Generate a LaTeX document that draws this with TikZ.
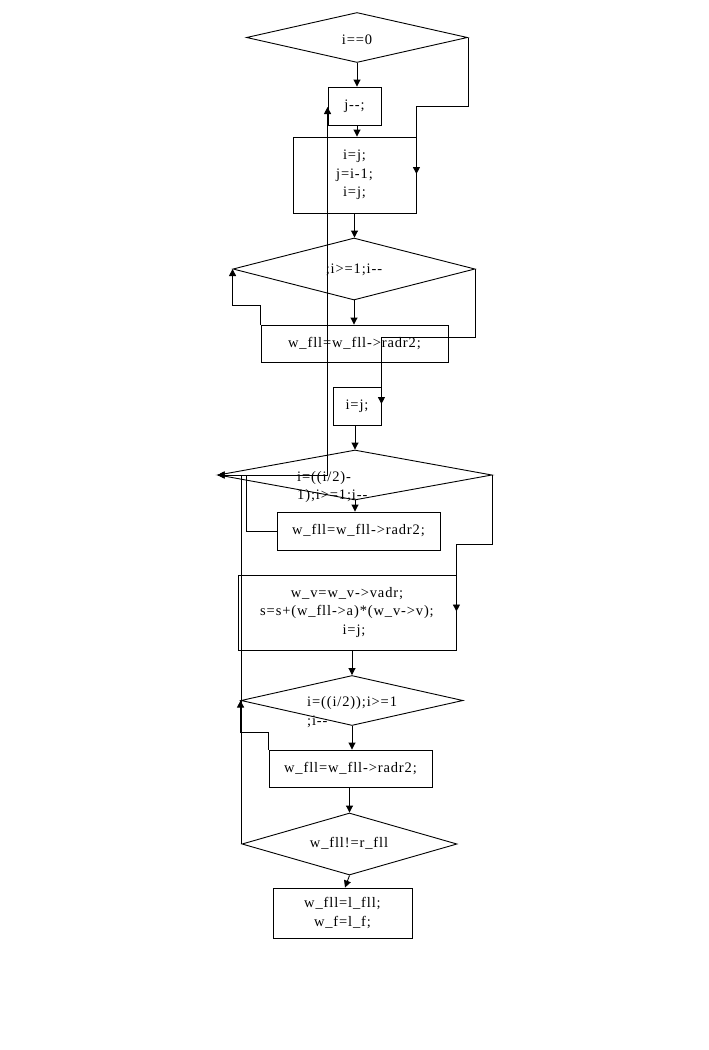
\documentclass[tikz,border=0pt]{standalone}
\usepackage{fontspec}
\setmainfont{Liberation Serif}[LetterSpace=6]
\usetikzlibrary{shapes.geometric,arrows.meta,calc}
\begin{document}
\begin{tikzpicture}[x=1pt,y=-1pt,
  every node/.style={font=\fontsize{14.5}{18.5}\selectfont},
  box/.style={draw,line width=0.9pt,rectangle,inner sep=0pt,align=center},
  dia/.style={draw,line width=0.9pt,diamond,inner sep=0pt},
  lbl/.style={inner sep=0pt,align=center},
  lbll/.style={inner sep=0pt,align=left,anchor=west},
  con/.style={line width=0.9pt},
  arr/.style={line width=0.9pt,-{Triangle[length=7pt,width=7pt]}}]
\fill[white] (0,0) rectangle (709,1050);
\path[use as bounding box] (0,0) rectangle (709,1050);
% shapes
\node[dia,minimum width=221pt,minimum height=50pt] (d1) at (357,37.5) {};
\node[lbl] (t1) at (357,40) {i==0};
\node[box,minimum width=53pt,minimum height=38pt] (b1) at (354.5,106) {j{-}{-};};
\node[box,minimum width=123pt,minimum height=76pt] (b2) at (354.5,175) {i=j;\\j=i-1;\\i=j;};
\node[dia,minimum width=242pt,minimum height=62pt] (d2) at (354,269) {};
\node[lbl] (t2) at (354,270) {;i>=1;i{-}{-}};
\node[box,minimum width=187pt,minimum height=37pt] (b3) at (354.5,343.5) {w\_fll=w\_fll->radr2;};
\node[box,minimum width=48pt,minimum height=38pt] (b4) at (357,406) {i=j;};
\node[dia,minimum width=274pt,minimum height=50pt] (d3) at (355,475) {};
\node[lbll] (t3) at (297,487) {i=((i/2)-\\1);i>=1;i{-}{-}};
\node[box,minimum width=163pt,minimum height=38pt] (b5) at (358.5,531) {w\_fll=w\_fll->radr2;};
\node[box,minimum width=218pt,minimum height=75pt] (b6) at (347,612.5) {w\_v=w\_v->vadr;\\s=s+(w\_fll->a)*(w\_v->v);\\\hspace*{14pt}i=j;};
\node[dia,minimum width=222pt,minimum height=50pt] (d6) at (352,700.5) {};
\node[lbll] (t6) at (307,712) {i=((i/2));i>=1\\;i{-}{-}};
\node[box,minimum width=163pt,minimum height=37pt] (b7) at (350.5,768.5) {w\_fll=w\_fll->radr2;};
\node[dia,minimum width=215pt,minimum height=62pt] (d7) at (349.5,844) {};
\node[lbl] (t7) at (349,843) {w\_fll!=r\_fll};
\node[box,minimum width=139pt,minimum height=50pt] (b8) at (342.5,913) {w\_fll=l\_fll;\\w\_f=l\_f;};
% connectors
\draw[arr] (d1.south) -- (d1.south |- b1.north);
\draw[arr] (d1.south |- b1.south) -- (d1.south |- b2.north);
\draw[arr] (d1.east) -- (d1.east |- b1.east) -- (b2.north east |- b1.east) -- ($(b2.east)+(0,-1)$);
\draw[arr] (b2.south) -- (b2.south |- d2.north);
\draw[arr] (d2.south) -- (d2.south |- b3.north);
\draw[arr] (b3.north west) -- ++(0,-19) -| (d2.west);
\draw[arr] (d2.east) -- ++(0,68) -| ($(b4.east)+(0,-2)$);
\draw[arr] (d3.north |- b4.south) -- (d3.north);
\draw[arr] (d3.south) -- (d3.south |- b5.north);
\draw[arr] (b5.west) -- ++(-30,0) |- (d3.west);
\draw[arr] (d3.east) -- ++(0,69) -| ($(b6.east)+(0,-1)$);
\coordinate (jn) at (b1.west |- d3.west);
\draw[con] (jn) -- (d3.west);
\draw[arr] (jn) -- ($(b1.west)+(0,1)$);
\draw[arr] (d6.north |- b6.south) -- (d6.north);
\draw[arr] (d6.south) -- (d6.south |- b7.north);
\draw[arr] (b7.north west) -- ++(0,-17) -| (d6.west);
\draw[arr] (d7.north |- b7.south) -- (d7.north);
\draw[arr] (d7.south) -- ($(b8.north)+(2.5,0)$);
\draw[arr] (d7.west) -- (d7.west |- d3.west) -- (d3.west);
\end{tikzpicture}
\end{document}
